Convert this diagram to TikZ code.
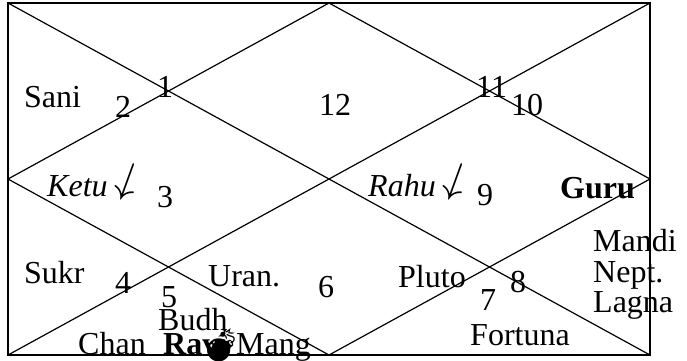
\documentclass[tikz,border=0pt]{standalone}
\usepackage{fontspec}
\setmainfont{Liberation Serif}
\newfontfamily\emojifont{Noto Emoji}
\newcommand{\retro}{\hspace{0.1em}\raisebox{0.1em}{\rotatebox[origin=c]{-20}{\scalebox{1.75}{$\downarrow$}}}}
\tikzset{
  lbl/.style={anchor=base west, inner sep=0pt, font=\fontsize{32}{32}\selectfont},
  chartline/.style={line width=1.2pt, black},
}
\begin{document}
\begin{tikzpicture}[x=1pt,y=-1pt]
\useasboundingbox (0,0) rectangle (687,360);
\coordinate (tl) at (8,3);
\coordinate (tr) at (650,3);
\coordinate (br) at (650,355);
\coordinate (bl) at (8,355);
\coordinate (tm) at (329,3);
\coordinate (rm) at (650,179);
\coordinate (bm) at (329,355);
\coordinate (lm) at (8,179);
\draw[chartline] (tl) rectangle (br);
\draw[chartline] (tl) -- (br);
\draw[chartline] (tr) -- (bl);
\draw[chartline] (tm) -- (rm) -- (bm) -- (lm) -- cycle;
% house numbers
\node[lbl] (h1) at (157,97) {1};
\node[lbl] (h2) at (115,117) {2};
\node[lbl] (h3) at (157,207) {3};
\node[lbl] (h4) at (115,293) {4};
\node[lbl] (h5) at (161,307) {5};
\node[lbl] (h6) at (318,297) {6};
\node[lbl] (h7) at (480,310) {7};
\node[lbl] (h8) at (510,292) {8};
\node[lbl] (h9) at (477,205) {9};
\node[lbl] (h10) at (511,115) {10};
\node[lbl] (h11) at (476,97) {11};
\node[lbl] (h12) at (319,115) {12};
% planets
\node[lbl] (sani) at (24,107) {Sani};
\node[lbl] (ketu) at (47,196) {\itshape Ketu\retro};
\node[lbl] (rahu) at (368,196) {\itshape Rahu\retro};
\node[lbl] (guru) at (560,198) {\bfseries Guru};
\node[lbl] (sukr) at (24,283) {Sukr};
\node[lbl] (uran) at (208,286) {Uran.};
\node[lbl] (pluto) at (398,287) {Pluto};
\node[lbl] (budh) at (158,330) {Budh};
\node[lbl] (chan) at (78,354) {Chan};
\node[lbl] (ravi) at (163,354) {\bfseries Ravi};
\node[lbl] (mang) at (236,354) {Mang};
\node[lbl] (fortuna) at (470,345) {Fortuna};
\node[lbl] (mandi) at (593,251) {Mandi};
\node[lbl] (nept) at (593,282) {Nept.};
\node[lbl] (lagna) at (593,312) {Lagna};
\node[inner sep=0pt, font=\emojifont\fontsize{33}{33}\selectfont] (bomb) at (221,345) {💣};
\end{tikzpicture}
\end{document}
